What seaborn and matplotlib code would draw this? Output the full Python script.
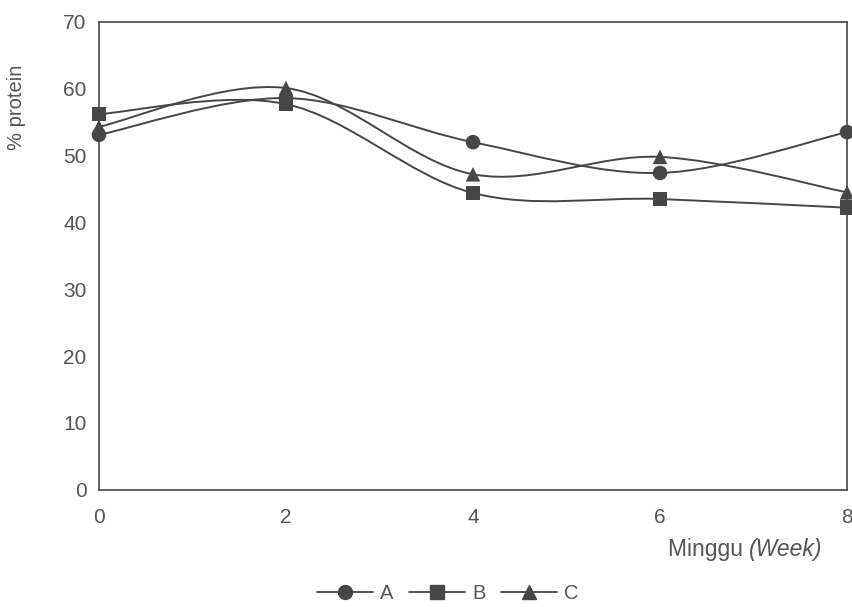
import numpy as np
import pandas as pd
import matplotlib
matplotlib.use("Agg")
import matplotlib.pyplot as plt
from matplotlib.path import Path
from matplotlib.patches import PathPatch
from matplotlib.lines import Line2D
import seaborn as sns

# data
weeks = [0, 2, 4, 6, 8]
protein_a = [53.1, 58.6, 52.0, 47.4, 53.5]
protein_b = [56.2, 57.7, 44.4, 43.5, 42.2]
protein_c = [54.3, 60.1, 47.2, 49.8, 44.5]
series_names = ["A", "B", "C"]
markers = {"A": "o", "B": "s", "C": "^"}

ink = "#464646"
text_col = "#555555"


def smooth_path(xs, ys):
    # Bezier path through the points (spreadsheet style smoothing)
    pts = np.column_stack([xs, ys]).astype(float)
    n = len(pts)
    verts = [pts[0]]
    codes = [Path.MOVETO]
    for i in range(n - 1):
        p0 = pts[max(i - 1, 0)]
        p1 = pts[i]
        p2 = pts[i + 1]
        p3 = pts[min(i + 2, n - 1)]
        c1 = p1 + (p2 - p0) / 6.0
        c2 = p2 - (p3 - p1) / 6.0
        verts += [c1, c2, p2]
        codes += [Path.CURVE4] * 3
    return Path(verts, codes)


df = pd.DataFrame({
    "week": weeks * 3,
    "protein": protein_a + protein_b + protein_c,
    "group": ["A"] * 5 + ["B"] * 5 + ["C"] * 5,
})

sns.set_style("white")
plt.rcParams["font.family"] = ["Liberation Sans", "DejaVu Sans"]

fig = plt.figure(figsize=(8.53, 6.07), dpi=100)
ax = fig.add_axes([0.116, 0.193, 0.877, 0.771])

for name in series_names:
    sub = df[df["group"] == name]
    ax.add_patch(PathPatch(smooth_path(sub["week"], sub["protein"]),
                           facecolor="none", edgecolor=ink, lw=1.4, zorder=2))

sns.scatterplot(data=df, x="week", y="protein", style="group", markers=markers,
                color=ink, s=110, edgecolor=ink, linewidth=0, legend=False,
                ax=ax, zorder=3, clip_on=False)

ax.set_xlim(0, 8)
ax.set_ylim(0, 70)
ax.set_xticks([0, 2, 4, 6, 8])
ax.set_yticks(range(0, 71, 10))
ax.tick_params(axis="both", length=0, labelsize=15, colors=text_col)
ax.tick_params(axis="x", pad=13)
ax.tick_params(axis="y", pad=9)
for sp in ax.spines.values():
    sp.set_color(ink)
    sp.set_linewidth(1.2)
ax.set_xlabel("")
ax.set_ylabel("% protein", fontsize=14.5, color=text_col)
ax.yaxis.set_label_coords(-0.098, 0.818)

t1 = fig.text(0.783, 0.084, "Minggu ", fontsize=16.5, color=text_col)
ax.annotate("(Week)", xy=(1, 0), xycoords=t1, va="bottom", fontsize=16.5,
            color=text_col, style="italic")

handles = [Line2D([0], [0], color=ink, lw=1.3, marker=markers[n], markersize=10,
                  markerfacecolor=ink, markeredgecolor=ink) for n in series_names]
fig.legend(handles, series_names, loc="lower center", bbox_to_anchor=(0.525, -0.024),
           ncol=3, frameon=False, fontsize=14.5, labelcolor=text_col,
           numpoints=1, handlelength=2.8, columnspacing=0.75, handletextpad=0.35)

fig.savefig("out.png", dpi=100)
